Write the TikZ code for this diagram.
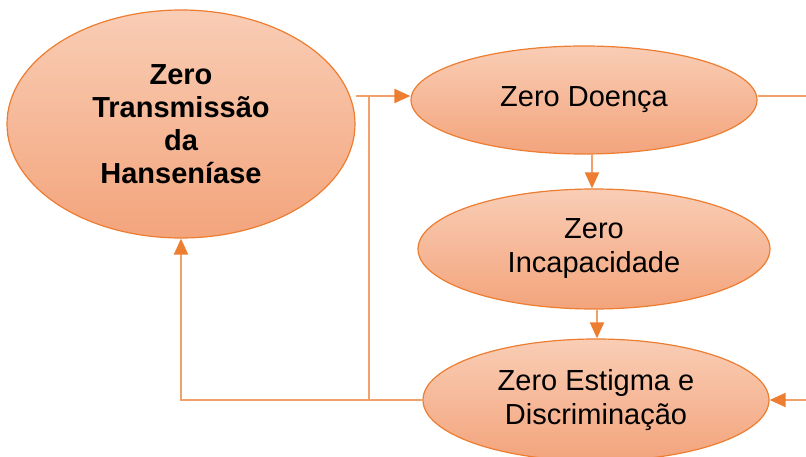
\documentclass[tikz,border=0pt]{standalone}
\usepackage{fontspec}
\setmainfont{Liberation Sans}
\usetikzlibrary{shapes.geometric,arrows.meta,calc}
\definecolor{orD}{HTML}{ED7D31}
\definecolor{orL}{HTML}{F2A06C}
\definecolor{fillT}{HTML}{F9CDB5}
\definecolor{fillB}{HTML}{F3A47C}
\begin{document}
\begin{tikzpicture}[x=1pt,y=-1pt,
  oval/.style={ellipse,draw=orD,line width=1.2pt,top color=fillT,bottom color=fillB,
    inner sep=0pt,align=center,font=\fontsize{29}{34}\selectfont},
  conn/.style={draw=orL,line width=2pt},
  arr/.style={conn,-{Triangle[length=16pt,width=14pt,color=orD]}}]
\useasboundingbox (0,0) rectangle (806,457);
\node[oval,minimum width=348pt,minimum height=228pt,font=\fontsize{29}{33}\selectfont\bfseries] (e1) at (181,124) {Zero\\Transmissão\\da\\Hanseníase};
\node[oval,minimum width=346pt,minimum height=108pt] (e2) at (584,100) {Zero Doença};
\node[oval,minimum width=352pt,minimum height=120pt] (e3) at (594,249) {Zero\\Incapacidade};
\node[oval,minimum width=346pt,minimum height=122pt] (e4) at (596,400) {Zero Estigma e\\Discriminação};
\coordinate (w2) at ($(e2.west)+(0,-4)$);
\coordinate (a1) at (e1.east |- w2);
\coordinate (j1) at (369,0 |- w2);
\coordinate (j2) at (369,0 |- e4.west);
\coordinate (c1) at (e1.south |- e4.west);
\coordinate (r1) at (806,0 |- w2);
\coordinate (r2) at (806,0 |- e4.east);
\draw[arr] (a1) -- (w2);
\draw[conn] (j1) -- (j2);
\draw[arr] (e4.west) -- (c1) -- (e1.south);
\draw[conn] ($(e2.east)+(0,-4)$) -- (r1);
\draw[arr] (r2) -- (e4.east);
\draw[arr] (e2.south -| 592,0) -- (e3.north -| 592,0);
\draw[arr] (e3.south -| 597,0) -- (e4.north -| 597,0);
\end{tikzpicture}
\end{document}
